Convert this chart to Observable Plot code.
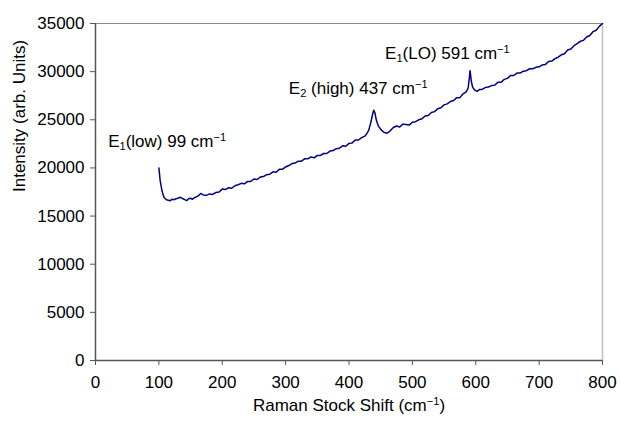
<!DOCTYPE html>
<html>
<head>
<meta charset="utf-8">
<script src="https://cdn.jsdelivr.net/npm/d3@7"></script>
<script src="https://cdn.jsdelivr.net/npm/@observablehq/plot@0.6"></script>
<style>
  html, body { margin: 0; padding: 0; background: #fff; }
  #chart { width: 620px; height: 421px; }
</style>
</head>
<body>
<div id="chart"></div>
<script>
// Raman shift (cm^-1)
const shift = [
  100,102,105,108,112,115,118,121,124,127,130,134,138,141,144,147,150,153,156,159,162,166,170,175,180,185,190,195,
  200,205,210,215,220,225,230,235,240,245,250,255,260,265,270,275,280,285,290,295,
  300,305,310,315,320,325,330,335,340,345,350,355,360,365,370,375,380,385,390,395,
  400,405,410,415,420,425,428,431,434,437,439,441,443,446,450,455,460,465,470,475,480,485,490,495,
  500,505,510,515,520,525,530,535,540,545,550,555,560,565,570,575,580,585,588,590,591,593,595,598,
  602,606,610,615,620,625,630,635,640,645,650,655,660,665,670,675,680,685,690,695,
  700,705,710,715,720,725,730,735,740,745,750,755,760,765,770,775,780,785,790,795,800
];
// Intensity (arb. units)
const intensity = [
  20000,18700,17600,16950,16700,16650,16600,16750,16700,16800,16850,16950,16800,16700,16600,16800,16850,16750,16900,17000,17100,17350,17200,17150,17300,17250,17450,17500,
  17800,17750,17950,17900,18150,18250,18400,18350,18600,18600,18850,18800,19050,19100,19300,19350,19600,19550,19850,19850,
  20100,20250,20450,20500,20700,20700,20950,20950,21150,21050,21300,21300,21500,21500,21750,21800,22000,22050,22300,22250,
  22550,22600,22900,22900,23150,23300,23550,23900,24600,25500,26000,25700,25000,24400,24000,23700,23600,23850,24200,24350,24250,24550,24500,24450,
  24750,24800,25000,25100,25400,25450,25750,25850,26150,26250,26550,26650,26900,27000,27300,27300,27700,27900,28300,29400,30100,29000,28400,28100,
  27950,28150,28150,28350,28400,28550,28600,28900,28900,29200,29300,29600,29600,29850,29850,30050,30100,30300,30300,30450,
  30500,30700,30750,31050,31100,31350,31500,31750,31850,32250,32350,32700,32900,33150,33250,33600,33750,34150,34300,34700,35000
];
const xTicks = [0,100,200,300,400,500,600,700,800];
const yTicks = [0,5000,10000,15000,20000,25000,30000,35000];
const xLabel = "Raman Stock Shift (cm-1)";
const yLabel = "Intensity (arb. Units)";
const peakLabels = ["E1(low) 99 cm-1", "E2 (high) 437 cm-1", "E1(LO) 591 cm-1"];
const peakLabelX = [20, 305, 457];
const peakLabelY = [22750, 28250, 31900];

const spectrum = shift.map((s, i) => ({x: s, y: intensity[i]}));
const notes = peakLabels.map((t, i) => ({t, x: peakLabelX[i], y: peakLabelY[i]}));

const font = "Liberation Sans, Arial, Helvetica, sans-serif";

const chart = Plot.plot({
  width: 620,
  height: 421,
  marginLeft: 95,
  marginRight: 18,
  marginTop: 23,
  marginBottom: 61,
  style: {fontFamily: font, background: "#fff", overflow: "visible"},
  x: {domain: [0, 800]},
  y: {domain: [0, 35000]},
  marks: [
    Plot.ruleY([35000], {stroke: "#8c8c8c", strokeWidth: 1}),
    Plot.ruleX([800], {stroke: "#c0c0c0", strokeWidth: 1.5}),
    Plot.axisX({ticks: xTicks, tickSize: 5, tickPadding: 10, fontSize: 17, stroke: "#555", color: "#000", tickFormat: d => String(d), label: null}),
    Plot.axisY({ticks: yTicks, tickSize: 5, tickPadding: 6, fontSize: 17, stroke: "#555", color: "#000", tickFormat: d => String(d), label: null}),
    Plot.ruleX([0], {stroke: "#555", strokeWidth: 1.5}),
    Plot.ruleY([0], {stroke: "#555", strokeWidth: 1.5}),
    Plot.line(spectrum, {x: "x", y: "y", stroke: "#000080", strokeWidth: 1.5}),
    Plot.text(notes, {x: "x", y: "y", text: "t", textAnchor: "start", fontSize: 17, fill: "#000"}),
    Plot.text([xLabel], {frameAnchor: "bottom", dy: 50, fontSize: 17, fill: "#000"}),
    Plot.text([yLabel], {frameAnchor: "left", dx: -76, rotate: -90, fontSize: 17, fill: "#000"})
  ]
});

// Render subscripts / superscripts as real text spans
chart.querySelectorAll("text").forEach(el => {
  if (el.children.length) return;
  const s = el.textContent;
  if (!/cm-1/.test(s)) return;
  const esc = v => v.replace(/&/g, "&amp;").replace(/</g, "&lt;");
  const html = esc(s)
    .replace(/^E(\d)/, 'E<tspan baseline-shift="-3" font-size="65%">$1</tspan>')
    .replace(/cm-1/, 'cm<tspan baseline-shift="6" font-size="65%">\u22121</tspan>');
  el.innerHTML = html;
});

document.getElementById("chart").appendChild(chart);
</script>
</body>
</html>
